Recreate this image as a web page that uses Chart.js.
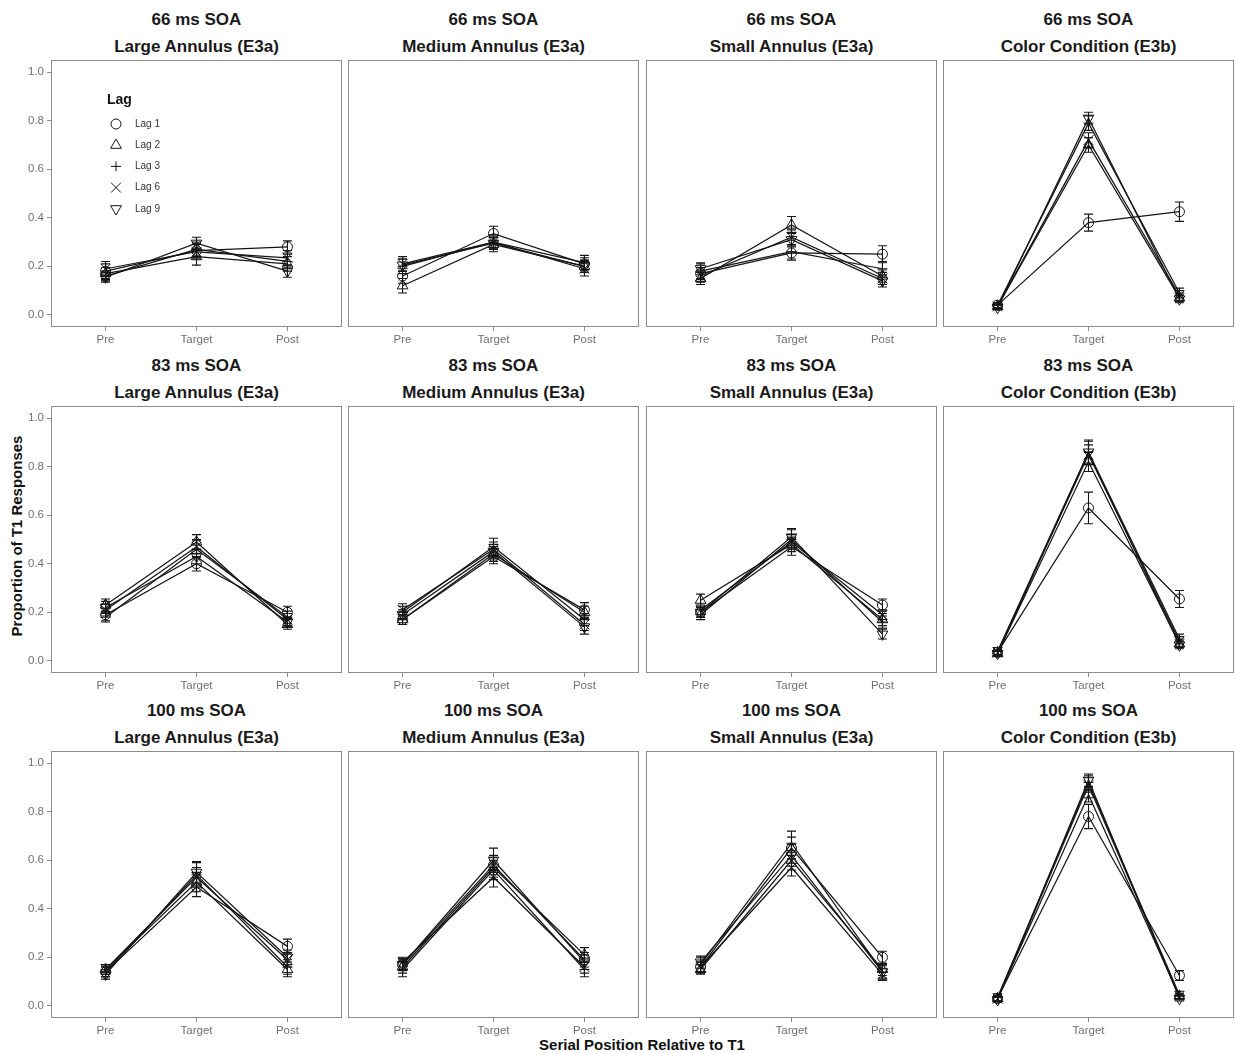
<!DOCTYPE html>
<html><head><meta charset="utf-8">
<script src="https://cdn.jsdelivr.net/npm/chart.js@4.4.1/dist/chart.umd.min.js"></script>
<style>
html,body{margin:0;padding:0;background:#fff;}
body{width:1235px;height:1053px;position:relative;overflow:hidden;font-family:"Liberation Sans",Arial,sans-serif;}
.t{position:absolute;text-align:center;font-weight:bold;font-size:17px;color:#1a1a1a;white-space:nowrap;line-height:20px;}
.ax{position:absolute;font-weight:bold;font-size:15px;color:#111;white-space:nowrap;line-height:18px;text-align:center;}
canvas{position:absolute;}
</style></head><body>
<script>
// ---------- data ----------
const positions = ['Pre', 'Target', 'Post'];
const lags = ['Lag 1', 'Lag 2', 'Lag 3', 'Lag 6', 'Lag 9'];
const soaLabels = ['66 ms SOA', '83 ms SOA', '100 ms SOA'];
const conditionLabels = ['Large Annulus (E3a)', 'Medium Annulus (E3a)', 'Small Annulus (E3a)', 'Color Condition (E3b)'];
const yTickValues = [0, 0.2, 0.4, 0.6, 0.8, 1.0];
const yTickLabels = ['0.0', '0.2', '0.4', '0.6', '0.8', '1.0'];
const yAxisTitle = 'Proportion of T1 Responses';
const xAxisTitle = 'Serial Position Relative to T1';
const legendTitle = 'Lag';

// rows: Lag 1, 2, 3, 6, 9 ; columns: Pre, Target, Post
const soa66Large    = [[0.18,0.265,0.28],[0.17,0.24,0.21],[0.16,0.27,0.22],[0.19,0.26,0.235],[0.155,0.295,0.18]];
const soa66LargeSE  = [[0.03,0.03,0.025],[0.025,0.035,0.03],[0.02,0.03,0.03],[0.03,0.03,0.03],[0.02,0.025,0.025]];
const soa66Medium   = [[0.16,0.335,0.21],[0.12,0.29,0.20],[0.20,0.30,0.215],[0.21,0.30,0.19],[0.205,0.295,0.20]];
const soa66MediumSE = [[0.03,0.03,0.025],[0.03,0.03,0.025],[0.03,0.03,0.03],[0.03,0.025,0.03],[0.025,0.025,0.025]];
const soa66Small    = [[0.17,0.255,0.25],[0.15,0.37,0.16],[0.18,0.26,0.19],[0.16,0.32,0.15],[0.19,0.31,0.14]];
const soa66SmallSE  = [[0.025,0.03,0.035],[0.025,0.035,0.025],[0.03,0.03,0.03],[0.025,0.03,0.025],[0.025,0.03,0.025]];
const soa66Color    = [[0.04,0.38,0.425],[0.035,0.70,0.07],[0.04,0.79,0.09],[0.035,0.72,0.08],[0.03,0.81,0.065]];
const soa66ColorSE  = [[0.01,0.035,0.04],[0.01,0.03,0.015],[0.01,0.03,0.02],[0.01,0.03,0.02],[0.01,0.025,0.015]];

const soa83Large    = [[0.19,0.40,0.20],[0.23,0.49,0.15],[0.18,0.46,0.18],[0.21,0.47,0.17],[0.22,0.43,0.16]];
const soa83LargeSE  = [[0.025,0.03,0.025],[0.025,0.03,0.02],[0.02,0.035,0.025],[0.025,0.03,0.025],[0.025,0.03,0.02]];
const soa83Medium   = [[0.17,0.43,0.21],[0.17,0.44,0.20],[0.20,0.47,0.17],[0.21,0.46,0.15],[0.19,0.45,0.14]];
const soa83MediumSE = [[0.02,0.03,0.03],[0.02,0.03,0.025],[0.025,0.035,0.025],[0.025,0.03,0.025],[0.02,0.03,0.03]];
const soa83Small    = [[0.20,0.47,0.23],[0.25,0.48,0.17],[0.19,0.50,0.16],[0.21,0.49,0.19],[0.20,0.51,0.11]];
const soa83SmallSE  = [[0.02,0.035,0.025],[0.025,0.03,0.025],[0.02,0.04,0.025],[0.02,0.03,0.02],[0.02,0.035,0.02]];
const soa83Color    = [[0.035,0.63,0.255],[0.03,0.82,0.07],[0.04,0.86,0.09],[0.035,0.85,0.08],[0.03,0.86,0.065]];
const soa83ColorSE  = [[0.01,0.065,0.035],[0.01,0.04,0.015],[0.015,0.05,0.02],[0.01,0.04,0.02],[0.01,0.045,0.015]];

const soa100Large    = [[0.14,0.49,0.245],[0.15,0.51,0.15],[0.14,0.54,0.16],[0.15,0.53,0.19],[0.13,0.55,0.20]];
const soa100LargeSE  = [[0.02,0.04,0.03],[0.02,0.04,0.03],[0.02,0.05,0.03],[0.02,0.04,0.03],[0.02,0.045,0.03]];
const soa100Medium   = [[0.17,0.58,0.19],[0.16,0.57,0.21],[0.15,0.56,0.15],[0.18,0.53,0.16],[0.17,0.60,0.18]];
const soa100MediumSE = [[0.02,0.04,0.03],[0.025,0.04,0.03],[0.03,0.04,0.03],[0.02,0.04,0.025],[0.025,0.05,0.03]];
const soa100Small    = [[0.16,0.65,0.20],[0.15,0.60,0.15],[0.17,0.67,0.14],[0.16,0.57,0.13],[0.18,0.62,0.14]];
const soa100SmallSE  = [[0.025,0.045,0.025],[0.02,0.04,0.025],[0.03,0.05,0.03],[0.02,0.035,0.025],[0.025,0.045,0.025]];
const soa100Color    = [[0.03,0.78,0.125],[0.03,0.87,0.04],[0.035,0.92,0.045],[0.03,0.91,0.04],[0.025,0.93,0.03]];
const soa100ColorSE  = [[0.01,0.05,0.02],[0.01,0.03,0.01],[0.015,0.03,0.015],[0.01,0.03,0.01],[0.01,0.025,0.01]];

const panelMeans = [
  [soa66Large, soa66Medium, soa66Small, soa66Color],
  [soa83Large, soa83Medium, soa83Small, soa83Color],
  [soa100Large, soa100Medium, soa100Small, soa100Color]
];
const panelSE = [
  [soa66LargeSE, soa66MediumSE, soa66SmallSE, soa66ColorSE],
  [soa83LargeSE, soa83MediumSE, soa83SmallSE, soa83ColorSE],
  [soa100LargeSE, soa100MediumSE, soa100SmallSE, soa100ColorSE]
];

// ---------- styles / layout ----------
const FONT = '"Liberation Sans", Arial, sans-serif';
const lagShapes = ['circle', 'triangle', 'cross', 'crossRot', 'triangle'];
const lagRotation = [0, 0, 0, 0, 180];
const lagRadius = [5, 6.2, 5, 7, 6.2];
const INK = '#151515';
const FRAME = '#8c8c8c';
const TICKTXT = '#707070';
const boxLefts = [51, 348, 646, 943];
const boxTops = [60, 406, 751];
const BOXW = 291, BOXH = 267;
const YAXW = 45, XAXH = 23, M = 15;

function addDiv(cls, text, css) {
  const d = document.createElement('div');
  d.className = cls; d.textContent = text;
  Object.assign(d.style, css);
  document.body.appendChild(d);
  return d;
}
for (let r = 0; r < 3; r++) {
  for (let c = 0; c < 4; c++) {
    const cx = boxLefts[c] + BOXW / 2;
    addDiv('t', soaLabels[r], {left: (cx - 150) + 'px', width: '300px', top: (boxTops[r] - 40 - 10) + 'px'});
    addDiv('t', conditionLabels[c], {left: (cx - 150) + 'px', width: '300px', top: (boxTops[r] - 13 - 10) + 'px'});
  }
}
addDiv('ax', yAxisTitle, {left: (17 - 150) + 'px', width: '300px', top: (536 - 9) + 'px', transform: 'rotate(-90deg)'});
addDiv('ax', xAxisTitle, {left: (642 - 200) + 'px', width: '400px', top: (1045 - 9) + 'px'});

const frameErr = {
  id: 'frameErr',
  afterDatasetsDraw(chart) {
    const {ctx, chartArea: a, scales: {x, y}} = chart;
    ctx.save();
    ctx.strokeStyle = INK; ctx.lineWidth = 1.1;
    chart.data.datasets.forEach((ds) => {
      ds.data.forEach((p, i) => {
        const px = x.getPixelForValue(p.x);
        const top = y.getPixelForValue(p.y + ds.se[i]);
        const bot = y.getPixelForValue(p.y - ds.se[i]);
        ctx.beginPath();
        ctx.moveTo(px, top); ctx.lineTo(px, bot);
        ctx.moveTo(px - 4.5, top); ctx.lineTo(px + 4.5, top);
        ctx.moveTo(px - 4.5, bot); ctx.lineTo(px + 4.5, bot);
        ctx.stroke();
      });
    });
    ctx.strokeStyle = FRAME; ctx.lineWidth = 1;
    ctx.strokeRect(a.left + 0.5, a.top + 0.5, a.right - a.left - 1, a.bottom - a.top - 1);
    ctx.restore();
  }
};

function drawShape(ctx, style, rot, radius, x, y) {
  if (Chart.helpers && Chart.helpers.drawPoint) {
    Chart.helpers.drawPoint(ctx, {pointStyle: style, rotation: rot, radius: radius, borderWidth: 1}, x, y);
  }
}

const lagLegend = {
  id: 'lagLegend',
  afterDraw(chart) {
    if (!chart.options.plugins.lagLegend || !chart.options.plugins.lagLegend.show) return;
    const {ctx, chartArea: a} = chart;
    ctx.save();
    ctx.fillStyle = '#111';
    ctx.font = 'bold 14px ' + FONT;
    ctx.textBaseline = 'middle';
    ctx.fillText(legendTitle, a.left + 56, a.top + 40);
    lags.forEach((lab, i) => {
      const yy = a.top + 64 + i * 21.2;
      ctx.strokeStyle = INK; ctx.fillStyle = 'rgba(0,0,0,0)'; ctx.lineWidth = 1;
      drawShape(ctx, lagShapes[i], lagRotation[i], lagRadius[i], a.left + 65, yy);
      ctx.fillStyle = '#333';
      ctx.font = '10px ' + FONT;
      ctx.fillText(lab, a.left + 84, yy);
    });
    ctx.restore();
  }
};

function noPad(s) { s.paddingTop = 0; s.paddingBottom = 0; s.paddingLeft = 0; s.paddingRight = 0; }

function makePanel(r, c) {
  const cv = document.createElement('canvas');
  const W = M + YAXW + BOXW + M, H = M + BOXH + XAXH + M;
  cv.width = W; cv.height = H;
  cv.style.left = (boxLefts[c] - YAXW - M) + 'px';
  cv.style.top = (boxTops[r] - M) + 'px';
  cv.style.width = W + 'px'; cv.style.height = H + 'px';
  document.body.appendChild(cv);
  const means = panelMeans[r][c], se = panelSE[r][c];
  const datasets = lags.map((lab, li) => ({
    label: lab,
    data: positions.map((p, pi) => ({x: pi, y: means[li][pi]})),
    se: se[li],
    borderColor: INK,
    borderWidth: 1.25,
    pointStyle: lagShapes[li],
    pointRotation: lagRotation[li],
    pointRadius: lagRadius[li],
    pointBorderColor: INK,
    pointBackgroundColor: 'rgba(0,0,0,0)',
    pointBorderWidth: 1,
    fill: false,
    tension: 0
  }));
  new Chart(cv, {
    type: 'line',
    data: {datasets},
    plugins: [frameErr, lagLegend],
    options: {
      responsive: false,
      animation: false,
      events: [],
      layout: {padding: {top: M, right: M, left: M, bottom: M}},
      plugins: {legend: {display: false}, tooltip: {enabled: false}, lagLegend: {show: r === 0 && c === 0}},
      scales: {
        x: {
          type: 'linear', min: -0.6, max: 2.6,
          afterBuildTicks: s => { s.ticks = positions.map((p, i) => ({value: i})); },
          afterFit: s => { s.height = XAXH; noPad(s); },
          ticks: {callback: v => positions[v], color: TICKTXT, font: {size: 11.5, family: FONT}, padding: 2, maxRotation: 0, autoSkip: false},
          grid: {display: true, drawOnChartArea: false, drawTicks: true, tickLength: 4, color: FRAME},
          border: {display: false}
        },
        y: {
          type: 'linear', min: -0.05, max: 1.05,
          afterBuildTicks: s => { s.ticks = yTickValues.map(v => ({value: v})); },
          afterFit: s => { s.width = YAXW; noPad(s); },
          ticks: {display: c === 0, callback: (v, i) => yTickLabels[i], color: TICKTXT, font: {size: 11.5, family: FONT}, padding: 3},
          grid: {display: c === 0, drawOnChartArea: false, drawTicks: true, tickLength: 4, color: FRAME},
          border: {display: false}
        }
      }
    }
  });
}
for (let r = 0; r < 3; r++) for (let c = 0; c < 4; c++) makePanel(r, c);
</script>
</body></html>
